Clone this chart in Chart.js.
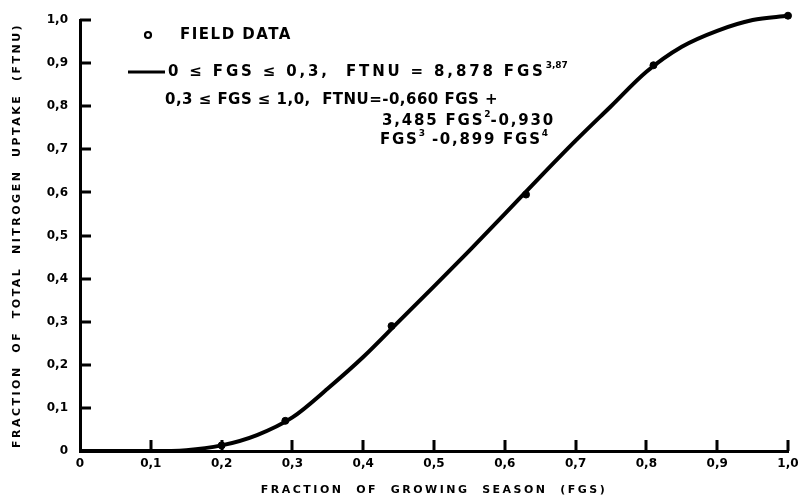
<!DOCTYPE html>
<html>
<head>
<meta charset="utf-8">
<script src="https://cdn.jsdelivr.net/npm/chart.js@4/dist/chart.umd.min.js"></script>
<style>
  html, body { margin: 0; padding: 0; background: #fff; }
  #wrap { width: 799px; height: 498px; position: relative; }
</style>
</head>
<body>
<div id="wrap"><canvas id="chart" width="799" height="498"></canvas></div>
<script>
// --- DATA ---
const curveX = [0, 0.1, 0.15, 0.2, 0.25, 0.3, 0.35, 0.4, 0.45, 0.5, 0.55, 0.6, 0.65, 0.7, 0.75, 0.8, 0.85, 0.9, 0.95, 1.0];
const curveY = [0, 0, 0.002, 0.013, 0.037, 0.078, 0.145, 0.218, 0.30, 0.382, 0.465, 0.55, 0.636, 0.72, 0.80, 0.88, 0.938, 0.975, 1.0, 1.01];

const fieldX = [0.2, 0.29, 0.44, 0.63, 0.81, 1.0];
const fieldY = [0.013, 0.07, 0.29, 0.595, 0.895, 1.01];

const xTickLabels = ['0', '0,1', '0,2', '0,3', '0,4', '0,5', '0,6', '0,7', '0,8', '0,9', '1,0'];
const yTickLabels = ['0', '0,1', '0,2', '0,3', '0,4', '0,5', '0,6', '0,7', '0,8', '0,9', '1,0'];

const xTitle = 'FRACTION  OF  GROWING  SEASON  (FGS)';
const yTitle = 'FRACTION  OF  TOTAL  NITROGEN  UPTAKE  (FTNU)';

const FONT = '"DejaVu Sans", sans-serif';

// text with superscripts; main text is letter-spaced out to a target width
function drawRich(ctx, x, y, segs, size, target) {
  const fontFor = sup => 'bold ' + (sup ? Math.round(size * 0.6) : size) + 'px ' + FONT;
  ctx.letterSpacing = '0px';
  let natural = 0, chars = 0;
  segs.forEach(([t, sup]) => {
    ctx.font = fontFor(sup);
    natural += ctx.measureText(t).width;
    if (!sup) chars += t.length;
  });
  const sp = target ? Math.max(0, (target - natural) / chars) : 0;
  let cx = x;
  segs.forEach(([t, sup]) => {
    ctx.font = fontFor(sup);
    ctx.letterSpacing = sup ? '0px' : sp.toFixed(2) + 'px';
    ctx.fillText(t, cx, sup ? y - size * 0.45 : y);
    cx += ctx.measureText(t).width;
  });
  ctx.letterSpacing = '0px';
}

// inward tick marks, titles and the legend block
const decor = {
  id: 'decor',
  afterDraw(chart) {
    const ctx = chart.ctx;
    const xs = chart.scales.x, ys = chart.scales.y;
    const area = chart.chartArea;
    ctx.save();
    ctx.fillStyle = '#000';
    ctx.strokeStyle = '#000';

    for (let i = 1; i < xTickLabels.length; i++) {
      const px = Math.round(xs.getPixelForValue(i / 10));
      ctx.fillRect(px - 1.5, area.bottom - 11, 3, 11);
    }
    for (let i = 1; i < yTickLabels.length; i++) {
      const py = Math.round(ys.getPixelForValue(i / 10));
      ctx.fillRect(area.left, py - 1.5, 11, 3);
    }

    // axis titles
    ctx.letterSpacing = '2.5px';
    ctx.font = 'bold 11px ' + FONT;
    ctx.textAlign = 'center';
    ctx.textBaseline = 'middle';
    ctx.fillText(xTitle, (area.left + area.right) / 2, 490);
    ctx.save();
    ctx.translate(17, (area.top + area.bottom) / 2);
    ctx.rotate(-Math.PI / 2);
    ctx.fillText(yTitle, 0, 0);
    ctx.restore();

    // legend
    ctx.textAlign = 'left';
    ctx.beginPath();
    ctx.lineWidth = 2.2;
    ctx.arc(148, 35, 3, 0, Math.PI * 2);
    ctx.stroke();
    drawRich(ctx, 180, 35, [['FIELD DATA', false]], 15, 112);

    ctx.lineWidth = 3;
    ctx.beginPath();
    ctx.moveTo(128, 72);
    ctx.lineTo(165, 72);
    ctx.stroke();
    drawRich(ctx, 168, 72, [['0 ≤ FGS ≤ 0,3,  FTNU = 8,878 FGS', false], ['3,87', true]], 15, 400);
    drawRich(ctx, 165, 100, [['0,3 ≤ FGS ≤ 1,0,  FTNU=-0,660 FGS +', false]], 15, 333);
    drawRich(ctx, 382, 121, [['3,485 FGS', false], ['2', true], ['-0,930', false]], 15, 173);
    drawRich(ctx, 380, 140, [['FGS', false], ['3', true], [' -0,899 FGS', false], ['4', true]], 15, 168);
    ctx.restore();
  }
};

new Chart(document.getElementById('chart'), {
  type: 'scatter',
  data: {
    datasets: [
      {
        label: 'fit',
        data: curveX.map((x, i) => ({ x, y: curveY[i] })),
        showLine: true,
        borderColor: '#000',
        borderWidth: 4,
        pointRadius: 0,
        cubicInterpolationMode: 'monotone',
        clip: false
      },
      {
        label: 'FIELD DATA',
        data: fieldX.map((x, i) => ({ x, y: fieldY[i] })),
        pointRadius: 3.5,
        pointBackgroundColor: '#000',
        pointBorderColor: '#000',
        clip: false
      }
    ]
  },
  options: {
    responsive: false,
    animation: false,
    layout: { padding: { top: 20, right: 11, left: 0, bottom: 0 } },
    plugins: { legend: { display: false }, tooltip: { enabled: false } },
    scales: {
      x: {
        type: 'linear', min: 0, max: 1,
        afterFit: s => { s.height = 47; s.paddingLeft = 0; s.paddingRight = 0; },
        grid: { display: false, drawTicks: false },
        border: { display: true, color: '#000', width: 3 },
        ticks: {
          stepSize: 0.1, padding: 6, color: '#000', maxRotation: 0, autoSkip: false,
          font: { family: FONT, size: 12, weight: 'bold' },
          callback: (v, i) => xTickLabels[i]
        }
      },
      y: {
        type: 'linear', min: 0, max: 1,
        afterFit: s => { s.width = 80; s.paddingTop = 0; s.paddingBottom = 0; },
        grid: { display: false, drawTicks: false },
        border: { display: true, color: '#000', width: 3 },
        ticks: {
          stepSize: 0.1, padding: 12, color: '#000', autoSkip: false,
          font: { family: FONT, size: 12, weight: 'bold' },
          callback: (v, i) => yTickLabels[i]
        }
      }
    }
  },
  plugins: [decor]
});
</script>
</body>
</html>
